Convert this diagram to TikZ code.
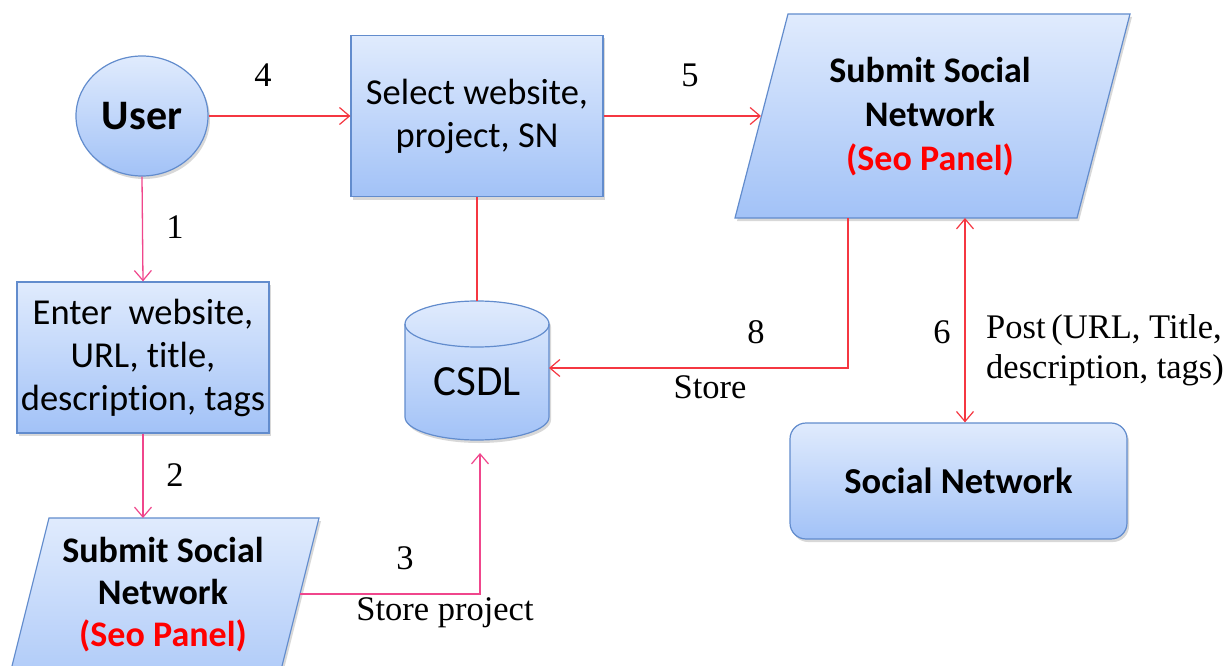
\documentclass[tikz,border=0pt]{standalone}
\usepackage{fontspec}
\setmainfont{Carlito}[Ligatures=NoCommon]
\newfontfamily\serifa{Liberation Serif}
\usetikzlibrary{arrows.meta,shapes.geometric,shadows}
\definecolor{boxtop}{RGB}{224,235,253}
\definecolor{boxbot}{RGB}{162,194,247}
\definecolor{boxline}{RGB}{98,140,205}
\definecolor{pinkln}{RGB}{240,70,140}
\definecolor{redln}{RGB}{245,55,65}
\definecolor{seored}{RGB}{255,0,0}
\begin{document}
\begin{tikzpicture}[x=1pt,y=-1pt,
  shp/.style={draw=boxline, line width=1.2pt, top color=boxtop, bottom color=boxbot,
    drop shadow={shadow xshift=2pt, shadow yshift=-3pt, opacity=0.3}},
  boxtxt/.style={font=\fontsize{36.5}{43}\selectfont, align=center, inner sep=0pt},
  boldtxt/.style={font=\fontsize{36.5}{43}\selectfont\bfseries, align=center, inner sep=0pt},
  lbl/.style={font=\serifa\fontsize{34.5}{40}\selectfont, inner sep=0pt},
  tip/.tip={Straight Barb[length=10pt,width=17pt,line width=1.2pt]},
  pinkc/.style={line width=1.3pt, draw=pinkln, -tip},
  redc/.style={line width=1.3pt, draw=redln, -tip},
  redd/.style={line width=1.3pt, draw=redln, tip-tip},
  plainred/.style={line width=1.3pt, draw=redln}
]
\useasboundingbox (0,0) rectangle (1232,666);
\clip (0,0) rectangle (1232,666);
\fill[white] (0,0) rectangle (1232,666);

% User
\node[shp, ellipse, minimum width=132pt, minimum height=120pt, inner sep=0pt,
  font=\fontsize{42}{50}\selectfont\bfseries] (user) at (142,116) {User};

% Select box
\node[shp, rectangle, minimum width=252pt, minimum height=161pt, boxtxt] (sel) at (477,116)
  {Select website,\\project, SN};

% Enter box
\node[shp, rectangle, minimum width=252pt, minimum height=151pt, boxtxt] (enter) at (143,357.5)
  {Enter\ \ website,\\URL, title,\\description, tags};

% CSDL cylinder
\path[shp] (405,324) -- (405,417) arc[start angle=180, end angle=0, x radius=72, y radius=23]
  -- (549,324) arc[start angle=0, end angle=-180, x radius=72, y radius=23] -- cycle;
\draw[boxline, line width=1.2pt] (405,324) arc[start angle=180, end angle=0, x radius=72, y radius=23];
\node[font=\fontsize{43}{50}\selectfont, inner sep=0pt] (csdl) at (477,382) {CSDL};
\coordinate (csdlT) at (477,301);
\coordinate (csdlR) at (549,368);
\coordinate (csdlB) at (480,453);

% Top right parallelogram
\path[shp] (788,14) -- (1130,14) -- (1077,218) -- (735,218) -- cycle;
\node[boldtxt, font=\fontsize{36}{44}\selectfont\bfseries] (p1) at (930,117)
  {Submit Social\\Network\\\textcolor{seored}{(Seo Panel)}};
\coordinate (p1w) at (761,116);
\coordinate (p1s8) at (848,218);
\coordinate (p1s6) at (965,218);

% Bottom left parallelogram
\path[shp] (49,518) -- (319,518) -- (268,722) -- (-2,722) -- cycle;
\node[boldtxt, font=\fontsize{36}{42}\selectfont\bfseries] (p2) at (163,595)
  {Submit Social\\Network\\\textcolor{seored}{(Seo Panel)}};
\coordinate (p2n) at (143,518);
\coordinate (p2e) at (300,594);

% Social Network
\node[shp, rounded corners=16pt, minimum width=337pt, minimum height=116pt, boldtxt] (sn) at (958.5,481)
  {Social Network};

% Connectors
\draw[pinkc] (user.south) -- (enter.north);
\draw[pinkc] (enter.south) -- (p2n);
\draw[pinkc] (p2e) -| (csdlB);
\draw[redc] (user.east) -- (sel.west);
\draw[redc] (sel.east) -- (p1w);
\draw[plainred] (sel.south) -- (csdlT);
\draw[redc] (p1s8) |- (csdlR);
\draw[redd] (p1s6) -- (p1s6 |- sn.north);

% Labels
\node[lbl] (l4) at (263,75) {4};
\node[lbl] (l5) at (690,75) {5};
\node[lbl] (l1) at (175,227) {1};
\node[lbl] (l2) at (175,475) {2};
\node[lbl] (l3) at (405,558) {3};
\node[lbl] (l3b) at (445,613) {Store project};
\node[lbl] (l8) at (756,332) {8};
\node[lbl] (l8b) at (710,387) {Store};
\node[lbl] (l6) at (942,332) {6};
\node[lbl, align=left, anchor=west] (l6b) at (986,350) {Post\,(URL, Title,\\description, tags)};
\end{tikzpicture}
\end{document}
